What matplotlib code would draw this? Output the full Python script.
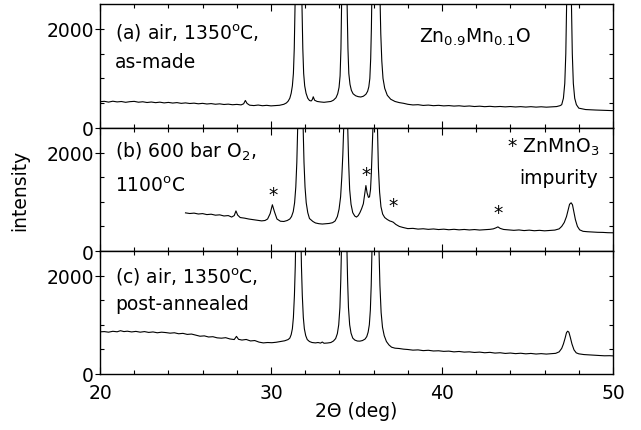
import matplotlib
matplotlib.use('Agg')
import matplotlib.pyplot as plt
from matplotlib.ticker import FixedLocator, MultipleLocator

plt.rcParams['font.family'] = ['DejaVu Sans']
plt.rcParams['mathtext.fontset'] = 'dejavusans'

# ---------------- data ----------------
# (a) air, 1350C, as-made
xa = [20.0, 20.25, 20.5, 20.75, 21.0, 21.25, 21.5, 21.75, 22.0, 22.25, 22.5, 22.75,
      23.0, 23.25, 23.5, 23.75, 24.0, 24.25, 24.5, 24.75, 25.0, 25.25, 25.5, 25.75,
      26.0, 26.25, 26.5, 26.75, 27.0, 27.25, 27.5, 27.75, 28.0, 28.25, 28.4, 28.5,
      28.6, 28.75, 29.0, 29.25, 29.5, 29.75, 30.0, 30.25, 30.5, 30.75, 30.9, 31.0,
      31.1, 31.18, 31.25, 31.31, 31.36, 31.41, 31.47, 31.61, 31.75, 31.81, 31.86, 31.91,
      31.97, 32.05, 32.15, 32.25, 32.35, 32.42, 32.47, 32.55, 32.7, 32.9, 33.1, 33.3,
      33.5, 33.65, 33.8, 33.9, 33.98, 34.04, 34.09, 34.13, 34.19, 34.29, 34.39, 34.45,
      34.5, 34.55, 34.62, 34.7, 34.8, 34.95, 35.1, 35.25, 35.4, 35.55, 35.65, 35.72,
      35.78, 35.83, 35.87, 35.9, 35.96, 36.13, 36.3, 36.37, 36.42, 36.48, 36.55, 36.65,
      36.8, 37.0, 37.25, 37.5, 37.75, 38.0, 38.3, 38.6, 38.9, 39.2, 39.5, 39.8,
      40.1, 40.4, 40.7, 41.0, 41.3, 41.6, 41.9, 42.2, 42.5, 42.8, 43.1, 43.4,
      43.7, 44.0, 44.3, 44.6, 44.9, 45.2, 45.5, 45.8, 46.1, 46.4, 46.7, 46.9,
      47.0, 47.1, 47.18, 47.24, 47.29, 47.35, 47.43, 47.51, 47.57, 47.62, 47.68, 47.76,
      47.86, 48.0, 48.2, 48.4, 48.7, 49.0, 49.3, 49.6, 50.0]
ya = [530, 538, 522, 540, 526, 534, 518, 531, 537, 520, 529, 514,
      524, 511, 521, 506, 516, 503, 512, 497, 506, 494, 501, 488,
      497, 484, 492, 479, 487, 474, 481, 469, 476, 466, 488, 555,
      495, 460, 452, 463, 449, 457, 446, 452, 458, 478, 505, 540,
      600, 700, 850, 1100, 1600, 2500, 4500, 10000, 4500, 2500, 1600, 1100,
      850, 700, 600, 555, 545, 575, 630, 560, 535, 525, 518, 526,
      535, 560, 610, 690, 820, 1050, 1600, 2500, 4500, 8000, 4500, 2500,
      1600, 1100, 880, 760, 690, 650, 632, 625, 640, 680, 740, 830,
      1000, 1400, 2000, 2700, 4500, 10000, 4500, 2700, 1900, 1350, 1000, 800,
      660, 580, 535, 512, 498, 478, 465, 470, 455, 462, 450, 457,
      446, 452, 442, 448, 437, 444, 433, 440, 430, 437, 428, 434,
      426, 433, 424, 431, 422, 430, 421, 428, 420, 427, 432, 450,
      470, 600, 900, 1500, 2500, 4500, 8000, 4500, 2500, 1500, 900, 600,
      470, 400, 385, 372, 366, 362, 358, 354, 350]

# (b) 600 bar O2, 1100C
xb = [25.0, 25.25, 25.5, 25.75, 26.0, 26.25, 26.5, 26.75, 27.0, 27.25, 27.5, 27.7,
      27.85, 27.95, 28.05, 28.2, 28.45, 28.7, 28.95, 29.2, 29.45, 29.65, 29.8, 29.95,
      30.08, 30.2, 30.35, 30.55, 30.75, 30.95, 31.1, 31.2, 31.3, 31.38, 31.45, 31.51,
      31.56, 31.62, 31.72, 31.82, 31.88, 31.93, 31.99, 32.06, 32.15, 32.25, 32.45, 32.6,
      32.8, 33.0, 33.2, 33.4, 33.6, 33.75, 33.88, 33.98, 34.07, 34.14, 34.2, 34.26,
      34.31, 34.37, 34.43, 34.48, 34.54, 34.6, 34.68, 34.78, 34.9, 35.0, 35.1, 35.2,
      35.3, 35.4, 35.48, 35.55, 35.62, 35.7, 35.76, 35.82, 35.87, 35.92, 35.97, 36.03,
      36.1, 36.17, 36.22, 36.28, 36.35, 36.43, 36.53, 36.65, 36.8, 36.95, 37.05, 37.15,
      37.3, 37.5, 37.7, 38.0, 38.3, 38.6, 38.9, 39.2, 39.5, 39.8, 40.1, 40.4,
      40.7, 41.0, 41.3, 41.6, 41.9, 42.2, 42.5, 42.8, 43.0, 43.15, 43.27, 43.4,
      43.6, 43.9, 44.2, 44.5, 44.8, 45.1, 45.4, 45.7, 46.0, 46.3, 46.6, 46.85,
      47.0, 47.15, 47.28, 47.38, 47.46, 47.55, 47.63, 47.7, 47.8, 47.92, 48.05, 48.25,
      48.5, 48.8, 49.1, 49.4, 49.7, 50.0]
yb = [775, 762, 770, 752, 760, 740, 748, 728, 735, 712, 720, 690,
      720, 815, 730, 680, 668, 650, 638, 625, 612, 620, 650, 760,
      940, 800, 650, 605, 600, 620, 650, 700, 800, 980, 1300, 1800,
      2500, 4500, 9000, 4500, 2500, 1800, 1300, 980, 780, 660, 600, 570,
      555, 548, 553, 560, 575, 610, 700, 850, 1100, 1500, 1950, 2600,
      4500, 8000, 4500, 2600, 1800, 1250, 950, 780, 710, 690, 720, 780,
      860, 960, 1150, 1330, 1180, 1090, 1100, 1250, 1600, 2100, 2600, 4500,
      9000, 4500, 2600, 1700, 1200, 900, 750, 680, 640, 610, 600, 585,
      540, 500, 480, 455, 460, 445, 452, 440, 448, 436, 444, 432,
      441, 430, 438, 428, 436, 426, 434, 440, 450, 470, 490, 460,
      438, 428, 420, 428, 415, 424, 412, 420, 410, 418, 425, 450,
      500, 580, 700, 840, 950, 980, 940, 820, 640, 500, 430, 400,
      392, 385, 380, 378, 372, 370]

# (c) air, 1350C, post-annealed
xc = [20.0, 20.25, 20.5, 20.75, 21.0, 21.2, 21.4, 21.6, 21.85, 22.1, 22.35, 22.6,
      22.85, 23.1, 23.35, 23.6, 23.85, 24.1, 24.35, 24.6, 24.85, 25.1, 25.35, 25.6,
      25.85, 26.1, 26.35, 26.6, 26.85, 27.1, 27.35, 27.6, 27.85, 27.98, 28.1, 28.3,
      28.55, 28.8, 29.05, 29.3, 29.55, 29.8, 30.05, 30.3, 30.55, 30.8, 31.0, 31.1,
      31.18, 31.25, 31.31, 31.37, 31.42, 31.47, 31.6, 31.73, 31.78, 31.83, 31.89, 31.95,
      32.03, 32.12, 32.25, 32.4, 32.6, 32.75, 32.9, 33.0, 33.1, 33.3, 33.5, 33.65,
      33.78, 33.88, 33.96, 34.03, 34.08, 34.13, 34.18, 34.28, 34.38, 34.43, 34.48, 34.53,
      34.6, 34.68, 34.78, 34.9, 35.05, 35.2, 35.35, 35.5, 35.6, 35.68, 35.75, 35.81,
      35.86, 35.91, 35.97, 36.1, 36.25, 36.31, 36.37, 36.44, 36.52, 36.62, 36.75, 36.9,
      37.05, 37.25, 37.5, 37.75, 38.0, 38.3, 38.6, 38.9, 39.2, 39.5, 39.8, 40.1,
      40.4, 40.7, 41.0, 41.3, 41.6, 41.9, 42.2, 42.5, 42.8, 43.1, 43.4, 43.7,
      44.0, 44.3, 44.6, 44.9, 45.2, 45.5, 45.8, 46.1, 46.4, 46.65, 46.85, 47.0,
      47.1, 47.2, 47.28, 47.35, 47.42, 47.5, 47.6, 47.72, 47.85, 48.0, 48.3, 48.6,
      48.9, 49.2, 49.5, 49.8, 50.0]
yc = [857, 862, 850, 868, 858, 880, 862, 870, 855, 866, 850, 862,
      845, 855, 838, 850, 842, 830, 838, 818, 826, 805, 812, 790,
      768, 775, 752, 758, 735, 728, 738, 712, 700, 765, 705, 690,
      702, 672, 680, 648, 632, 640, 636, 645, 660, 675, 700, 730,
      800, 920, 1150, 1600, 2200, 3200, 9000, 3200, 2200, 1600, 1150, 920,
      780, 700, 660, 640, 632, 640, 628, 650, 625, 630, 640, 670,
      720, 820, 1000, 1350, 1900, 2700, 4500, 8000, 4500, 2700, 1900, 1350,
      1000, 830, 730, 690, 670, 668, 680, 710, 760, 850, 1000, 1300,
      1800, 2600, 4500, 10000, 4500, 2600, 1800, 1250, 950, 780, 660, 590,
      545, 525, 518, 505, 498, 485, 490, 475, 482, 468, 472, 460,
      465, 450, 458, 445, 450, 438, 445, 432, 440, 425, 432, 418,
      426, 414, 422, 410, 418, 406, 414, 405, 412, 420, 450, 520,
      610, 730, 840, 870, 850, 750, 610, 490, 430, 410, 395, 388,
      380, 376, 370, 372, 368]

# impurity markers (2theta, intensity) in panel (b)
star_x = [30.12, 35.56, 37.13, 43.27]
star_y = [1140, 1550, 930, 775]

# ---------------- figure ----------------
W, H = 641, 431
fig = plt.figure(figsize=(W / 100, H / 100), dpi=100)
L, R = 100 / W, 613 / W
edges = [5, 129, 252, 375]
FS = 13.5

datasets = [(xa, ya), (xb, yb), (xc, yc)]
axes = []
for i in range(3):
    top, bot = edges[i], edges[i + 1]
    ax = fig.add_axes([L, 1 - bot / H, R - L, (bot - top) / H])
    x, y = datasets[i]
    ax.plot(x, y, color='black', lw=0.8)
    ax.set_xlim(20, 50)
    ax.set_ylim(0, 2500)
    ax.xaxis.set_major_locator(FixedLocator([20, 30, 40, 50]))
    ax.xaxis.set_minor_locator(MultipleLocator(2))
    ax.yaxis.set_major_locator(FixedLocator([0, 2000]))
    ax.yaxis.set_minor_locator(FixedLocator([500, 1000, 1500, 2000]))
    ax.yaxis.remove_overlapping_locs = False
    ax.tick_params(axis='x', which='both', direction='in', top=True, bottom=True,
                   labelsize=FS, width=0.8, pad=6.5)
    ax.tick_params(axis='x', which='major', length=5)
    ax.tick_params(axis='x', which='minor', length=3)
    ax.tick_params(axis='y', which='major', direction='out', left=True, right=False,
                   length=3.5, width=0.8, labelsize=FS, pad=1)
    ax.tick_params(axis='y', which='minor', direction='in', left=True, right=True,
                   length=3, width=0.8)
    for s in ax.spines.values():
        s.set_linewidth(1.0)
    if i < 2:
        ax.tick_params(axis='x', labelbottom=False)
    axes.append(ax)

axa, axb, axc = axes

axa.text(20.88, 1920, r"(a) air, 1350$^{\rm o}$C,", fontsize=FS, va='center', ha='left')
axa.text(20.88, 1350, "as-made", fontsize=FS, va='center', ha='left')
axa.text(41.9, 1850, r"Zn$_{0.9}$Mn$_{0.1}$O", fontsize=FS, va='center', ha='center')

axb.text(20.88, 2040, r"(b) 600 bar O$_2$,", fontsize=FS, va='center', ha='left')
axb.text(20.88, 1330, r"1100$^{\rm o}$C", fontsize=FS, va='center', ha='left')
axb.text(49.2, 2120, r"* ZnMnO$_3$", fontsize=FS, va='center', ha='right')
axb.text(49.1, 1500, "impurity", fontsize=FS, va='center', ha='right')
for sx, sy in zip(star_x, star_y):
    axb.text(sx, sy, "*", fontsize=FS, va='center', ha='center')

axc.text(20.88, 1980, r"(c) air, 1350$^{\rm o}$C,", fontsize=FS, va='center', ha='left')
axc.text(20.88, 1430, "post-annealed", fontsize=FS, va='center', ha='left')

axc.set_xlabel("2Θ (deg)", fontsize=FS, labelpad=-1)
fig.text(20 / W, 1 - 190 / H, "intensity", rotation=90, fontsize=FS,
         va='center', ha='center')

fig.savefig("out.png", dpi=100)
